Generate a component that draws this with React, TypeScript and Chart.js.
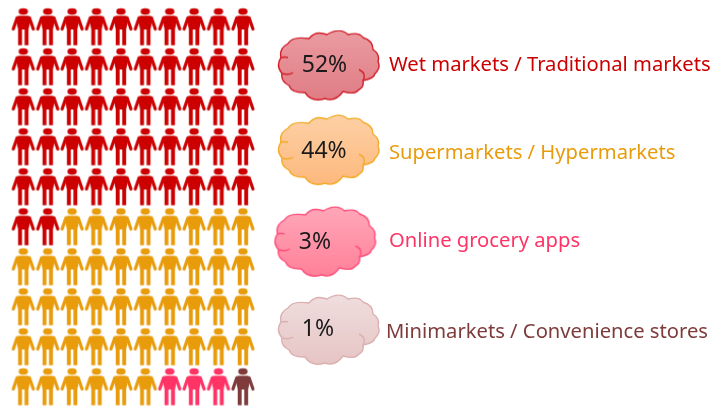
import React, { useEffect, useRef } from "react";
import { Chart, registerables } from "chart.js";

Chart.register(...registerables);

const categories = [
  "Wet markets / Traditional markets",
  "Supermarkets / Hypermarkets",
  "Online grocery apps",
  "Minimarkets / Convenience stores",
];
const shares = [52, 44, 3, 1];
const colors = ["#cc0000", "#e89c0c", "#ff3366", "#7f3b3b"];
const cloudTop = ["#ea9aa0", "#fdcfa4", "#ffa6b8", "#efdcdc"];
const cloudBottom = ["#e07c84", "#fdb87c", "#ff8098", "#e6c4c4"];
const cloudStroke = ["#d2202a", "#f2ac28", "#ff4d7a", "#dcb0b0"];

const FONT = '"Noto Sans", sans-serif';
const COLS = 10;

function personIcon(color: string) {
  const c = document.createElement("canvas");
  c.width = 26;
  c.height = 40;
  const g = c.getContext("2d")!;
  g.filter = "blur(0.55px)";
  g.fillStyle = color;
  g.strokeStyle = color;
  // head
  g.beginPath();
  g.ellipse(13, 5, 4.7, 3.2, 0, 0, Math.PI * 2);
  g.fill();
  // torso + legs
  g.beginPath();
  g.moveTo(8.5, 9.3);
  g.lineTo(17.5, 9.3);
  g.quadraticCurveTo(20, 9.5, 20.5, 12);
  g.lineTo(18.2, 23);
  g.lineTo(18.2, 38.8);
  g.lineTo(14.3, 38.8);
  g.lineTo(14.3, 23);
  g.lineTo(11.7, 23);
  g.lineTo(11.7, 38.8);
  g.lineTo(7.8, 38.8);
  g.lineTo(7.8, 23);
  g.lineTo(5.5, 12);
  g.quadraticCurveTo(6, 9.5, 8.5, 9.3);
  g.closePath();
  g.fill();
  // arms
  g.lineWidth = 3.2;
  g.lineCap = "round";
  g.lineJoin = "round";
  g.beginPath();
  g.moveTo(6.8, 11.5);
  g.lineTo(3, 22.5);
  g.moveTo(19.2, 11.5);
  g.lineTo(23, 22.5);
  g.stroke();
  return c;
}

function cloudIcon(i: number) {
  const W = 112;
  const H = 76;
  const c = document.createElement("canvas");
  c.width = W;
  c.height = H;
  const g = c.getContext("2d")!;
  const outline: [number, number][] = [
    [6, 28], [13, 14], [34, 9], [52, 5], [73, 5], [88, 8], [98, 20], [103, 32],
    [100, 44], [88, 51], [84, 60], [68, 62], [50, 69], [30, 63], [14, 56], [7, 44],
  ];
  const cx = 54;
  const cy = 36;
  g.beginPath();
  g.moveTo(outline[0][0], outline[0][1]);
  outline.forEach((p, k) => {
    const q = outline[(k + 1) % outline.length];
    const mx = (p[0] + q[0]) / 2;
    const my = (p[1] + q[1]) / 2;
    const dx = mx - cx;
    const dy = my - cy;
    const d = Math.hypot(dx, dy) || 1;
    const chord = Math.hypot(q[0] - p[0], q[1] - p[1]);
    const b = chord * 0.38;
    g.quadraticCurveTo(mx + (dx / d) * b, my + (dy / d) * b, q[0], q[1]);
  });
  g.closePath();
  const grad = g.createLinearGradient(0, 4, 0, 72);
  grad.addColorStop(0, cloudTop[i]);
  grad.addColorStop(1, cloudBottom[i]);
  g.fillStyle = grad;
  g.fill();
  g.lineWidth = 1.4;
  g.strokeStyle = cloudStroke[i];
  g.stroke();
  // inner curls
  g.beginPath();
  g.moveTo(84, 40);
  g.quadraticCurveTo(92, 44, 88, 51);
  g.moveTo(7, 44);
  g.quadraticCurveTo(14, 46, 18, 43);
  g.moveTo(13, 28);
  g.quadraticCurveTo(9, 27, 6, 28);
  g.stroke();
  return c;
}

export default function App() {
  const ref = useRef<HTMLCanvasElement>(null);

  useEffect(() => {
    const icons = colors.map(personIcon);
    const clouds = categories.map((_, i) => cloudIcon(i));

    let cursor = 0;
    const personSets = shares.map((n, s) => {
      const data: { x: number; y: number }[] = [];
      for (let k = 0; k < n; k++, cursor++) {
        data.push({ x: cursor % COLS, y: Math.floor(cursor / COLS) });
      }
      return {
        label: categories[s],
        data,
        pointStyle: icons[s] as any,
        pointRadius: 13,
        showLine: false,
        clip: false,
        xAxisID: "x",
        yAxisID: "y",
      };
    });

    const cloudDx = [4, 4, 0.5, 4];
    const cloudDy = [0, -0.04, 0, 0];
    const cloudSet = {
      label: "share",
      data: shares.map((_, i) => ({ x: cloudDx[i], y: i + cloudDy[i] })),
      pointStyle: clouds as any,
      pointRadius: 50,
      showLine: false,
      clip: false,
      xAxisID: "x2",
      yAxisID: "y2",
    };

    const labelPlugin = {
      id: "legendText",
      afterDatasetsDraw(chart: any) {
        const g = chart.ctx as CanvasRenderingContext2D;
        const sx = chart.scales.x2;
        const sy = chart.scales.y2;
        g.save();
        g.textBaseline = "middle";
        const pctDx = [-2.5, -3, -12, -9];
        const pctDy = [-2.5, -4.7, -1.8, -3];
        const txtDx = [62, 62, 62, 59];
        const txtDy = [-2, -2.2, -2.3, 0.5];
        shares.forEach((v, i) => {
          const x = sx.getPixelForValue(0);
          const y = sy.getPixelForValue(i);
          g.font = `23px ${FONT}`;
          g.fillStyle = "#1a1a1a";
          g.textAlign = "center";
          g.fillText(`${v}%`, x + pctDx[i], y + pctDy[i]);
          g.font = `20.2px ${FONT}`;
          g.fillStyle = colors[i];
          g.textAlign = "left";
          g.fillText(categories[i], x + txtDx[i], y + txtDy[i]);
        });
        g.restore();
      },
    };

    const hidden = { display: false, type: "linear" as const };
    const chart = new Chart(ref.current!, {
      type: "scatter",
      data: { datasets: [...personSets, cloudSet] as any },
      options: {
        responsive: false,
        animation: false,
        layout: { padding: 0, autoPadding: false },
        plugins: { legend: { display: false }, tooltip: { enabled: false } },
        scales: {
          x: { ...hidden, min: -0.955, max: 28.35 },
          y: { ...hidden, min: -0.6625, max: 9.5375, reverse: true },
          x2: { ...hidden, min: -327, max: 388 },
          y2: { ...hidden, min: -0.7656, max: 3.862, reverse: true },
        },
      },
      plugins: [labelPlugin],
    });
    return () => chart.destroy();
  }, []);

  return (
    <div style={{ position: "absolute", left: 0, top: 0, background: "#fff" }}>
      <canvas ref={ref} width={715} height={408} style={{ display: "block" }} />
    </div>
  );
}
